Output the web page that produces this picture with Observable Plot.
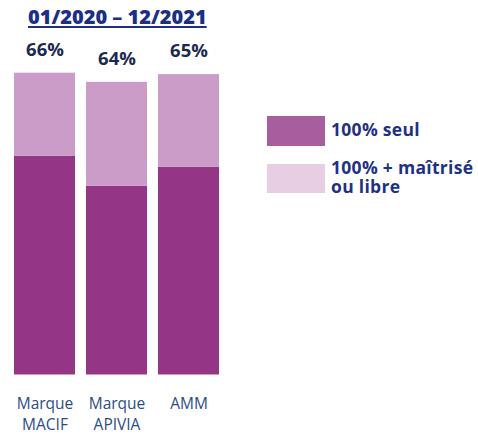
<!DOCTYPE html>
<html>
<head>
<meta charset="utf-8">
<script src="https://cdn.jsdelivr.net/npm/d3@7"></script>
<script src="https://cdn.jsdelivr.net/npm/@observablehq/plot@0.6"></script>
<style>
  html, body { margin: 0; padding: 0; background: #fff; }
  #wrap { position: relative; width: 478px; height: 434px; overflow: hidden; font-family: "Open Sans", sans-serif; }
  #chart { position: absolute; left: 0; top: 0; }
  #title { position: absolute; left: 28px; top: 7px; font-size: 20px; line-height: 20px; font-weight: 800; color: #1b2f86; text-decoration: underline; text-decoration-thickness: 2px; text-underline-offset: 2px; white-space: nowrap; }
  .lg { position: absolute; left: 267px; width: 58px; }
  .lt { position: absolute; left: 331px; font-size: 17.5px; line-height: 18px; font-weight: 700; letter-spacing: 0.3px; color: #1f3185; white-space: nowrap; }
</style>
</head>
<body>
<div id="wrap">
  <div id="chart"></div>
  <div id="title"></div>
  <div id="legend"></div>
</div>
<script>
const title = "01/2020 – 12/2021";
const categories = ["Marque MACIF", "Marque APIVIA", "AMM"];
const tickLabels = ["Marque\nMACIF", "Marque\nAPIVIA", "AMM"];
const seriesNames = ["100% seul", "100% + maîtrisé ou libre"];
const legendLines = [["100% seul"], ["100% + maîtrisé", "ou libre"]];
const seulValues = [47.8, 41.3, 45.4];
const maitriseValues = [18.2, 22.7, 20.3];
const totalLabels = ["66%", "64%", "65%"];
const barColors = ["#953586", "#cc9cc8"];
const legendColors = ["#a85e9e", "#e8cee2"];

const rows = [];
categories.forEach((c, i) => rows.push({cat: c, series: seriesNames[0], value: seulValues[i]}));
categories.forEach((c, i) => rows.push({cat: c, series: seriesNames[1], value: maitriseValues[i]}));
const totals = categories.map((c, i) => ({cat: c, total: seulValues[i] + maitriseValues[i], label: totalLabels[i]}));

const plot = Plot.plot({
  width: 478,
  height: 434,
  marginLeft: 7.5,
  marginRight: 253,
  marginTop: 72.7,
  marginBottom: 59.5,
  style: {fontFamily: "Open Sans, sans-serif", background: "transparent"},
  x: {domain: categories, paddingInner: 0.152, paddingOuter: 0.076, axis: null, label: null},
  y: {domain: [0, 66], axis: null, label: null},
  color: {domain: seriesNames, range: barColors},
  marks: [
    Plot.barY(rows, {x: "cat", y: "value", fill: "series"}),
    Plot.text(totals, {x: "cat", y: "total", text: "label", lineAnchor: "bottom", dy: -17.5, fontSize: 18.5, fontWeight: 700, fill: "#1c2a50"}),
    Plot.axisX({label: null, tickSize: 0, tickPadding: 19, fontSize: 15.5, lineHeight: 1.35, tickFormat: (d) => tickLabels[categories.indexOf(d)], color: "#2b4d84", fill: "#2b4d84"})
  ]
});
document.getElementById("chart").appendChild(plot);
document.getElementById("title").textContent = title;

const legend = document.getElementById("legend");
const swatchTops = [115.7, 164];
const textTops = [120, 158];
seriesNames.forEach((s, i) => {
  const sw = document.createElement("div");
  sw.className = "lg";
  sw.style.top = swatchTops[i] + "px";
  sw.style.height = (i === 0 ? 30 : 29.3) + "px";
  sw.style.background = legendColors[i];
  legend.appendChild(sw);
  legendLines[i].forEach((line, j) => {
    const t = document.createElement("div");
    t.className = "lt";
    t.style.top = (textTops[i] + j * 19) + "px";
    t.textContent = line;
    legend.appendChild(t);
  });
});
</script>
</body>
</html>
